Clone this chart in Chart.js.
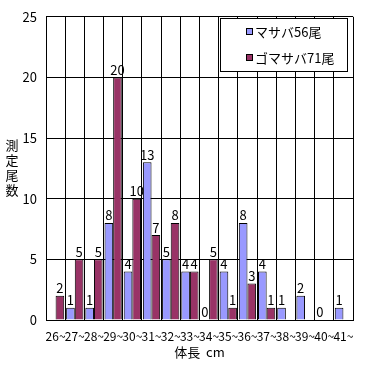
<!DOCTYPE html>
<html>
<head>
<meta charset="utf-8">
<script src="https://cdn.jsdelivr.net/npm/chart.js@4"></script>
<style>
  body { margin: 0; background: #fff; }
  #wrap { width: 371px; height: 365px; position: relative; }
</style>
</head>
<body>
<div id="wrap"><canvas id="lengthChart"></canvas></div>
<script>
// 体長階級 (cm)
const categories = ["26~","27~","28~","29~","30~","31~","32~","33~","34~","35~","36~","37~","38~","39~","40~","41~"];
const masabaLabel = "マサバ56尾";
const gomasabaLabel = "ゴマサバ71尾";
const masaba   = [null, 1, 1, 8, 4, 13, 5, 4, 0, 4, 8, 4, 1, 2, 0, 1];
const gomasaba = [2, 5, 5, 20, 10, 7, 8, 4, 5, 1, 3, 1, null, null, null, null];
const yTicks = [0, 5, 10, 15, 20, 25];

const FONT = "'Noto Sans CJK JP', 'DejaVu Sans', sans-serif";

// bar value labels + legend box + axis titles
const extras = {
  id: "extras",
  afterDatasetsDraw(chart) {
    const ctx = chart.ctx;
    ctx.save();
    ctx.fillStyle = "#000";
    ctx.font = "13px " + FONT;
    ctx.textAlign = "center";
    ctx.textBaseline = "bottom";
    chart.data.datasets.forEach((ds, di) => {
      chart.getDatasetMeta(di).data.forEach((bar, i) => {
        if (ds.data[i] === null) return;
        ctx.fillText(String(ds.data[i]), bar.x, bar.y - 1);
      });
    });

    // legend
    ctx.fillStyle = "#fff";
    ctx.fillRect(220.5, 18.5, 127, 53);
    ctx.strokeStyle = "#000";
    ctx.lineWidth = 1;
    ctx.strokeRect(220.5, 18.5, 127, 53);
    ctx.textAlign = "left";
    ctx.textBaseline = "middle";
    ctx.font = "13px " + FONT;
    chart.data.datasets.forEach((ds, di) => {
      const y = 32 + di * 26;
      ctx.fillStyle = ds.backgroundColor;
      ctx.fillRect(246.5, y - 3.5, 6, 6);
      ctx.strokeStyle = "#000";
      ctx.strokeRect(246.5, y - 3.5, 6, 6);
      ctx.fillStyle = "#000";
      ctx.fillText(ds.label, 255, y);
    });

    // y title, stacked characters
    ctx.font = "13px " + FONT;
    ctx.textAlign = "center";
    ["測", "定", "尾", "数"].forEach((c, i) => ctx.fillText(c, 12, 145 + i * 15));

    // x title
    ctx.fillText("体長  cm", (chart.chartArea.left + chart.chartArea.right) / 2, 352);
    ctx.restore();
  }
};

new Chart(document.getElementById("lengthChart"), {
  type: "bar",
  data: {
    labels: categories,
    datasets: [
      { label: masabaLabel, data: masaba, backgroundColor: "#9999FF", borderColor: "#000", borderWidth: 1 },
      { label: gomasabaLabel, data: gomasaba, backgroundColor: "#993366", borderColor: "#000", borderWidth: 1 }
    ]
  },
  options: {
    responsive: true,
    maintainAspectRatio: false,
    animation: false,
    layout: { padding: { top: 15, right: 18, bottom: 0, left: 0 } },
    datasets: { bar: { categoryPercentage: 0.9, barPercentage: 1.0 } },
    plugins: { legend: { display: false }, tooltip: { enabled: false } },
    scales: {
      x: {
        grid: { color: "#000", drawTicks: false, offset: true },
        border: { color: "#000" },
        ticks: { color: "#000", font: { size: 12, family: FONT }, autoSkip: false, maxRotation: 0, padding: 9 },
        afterFit(scale) { scale.height = 45; }
      },
      y: {
        min: 0, max: 25,
        afterBuildTicks(scale) { scale.ticks = yTicks.map(v => ({ value: v })); },
        grid: { color: "#000", drawTicks: false },
        border: { color: "#000" },
        ticks: { color: "#000", font: { size: 13, family: FONT }, padding: 9 },
        afterFit(scale) { scale.width = 46; }
      }
    }
  },
  plugins: [extras]
});
</script>
</body>
</html>
